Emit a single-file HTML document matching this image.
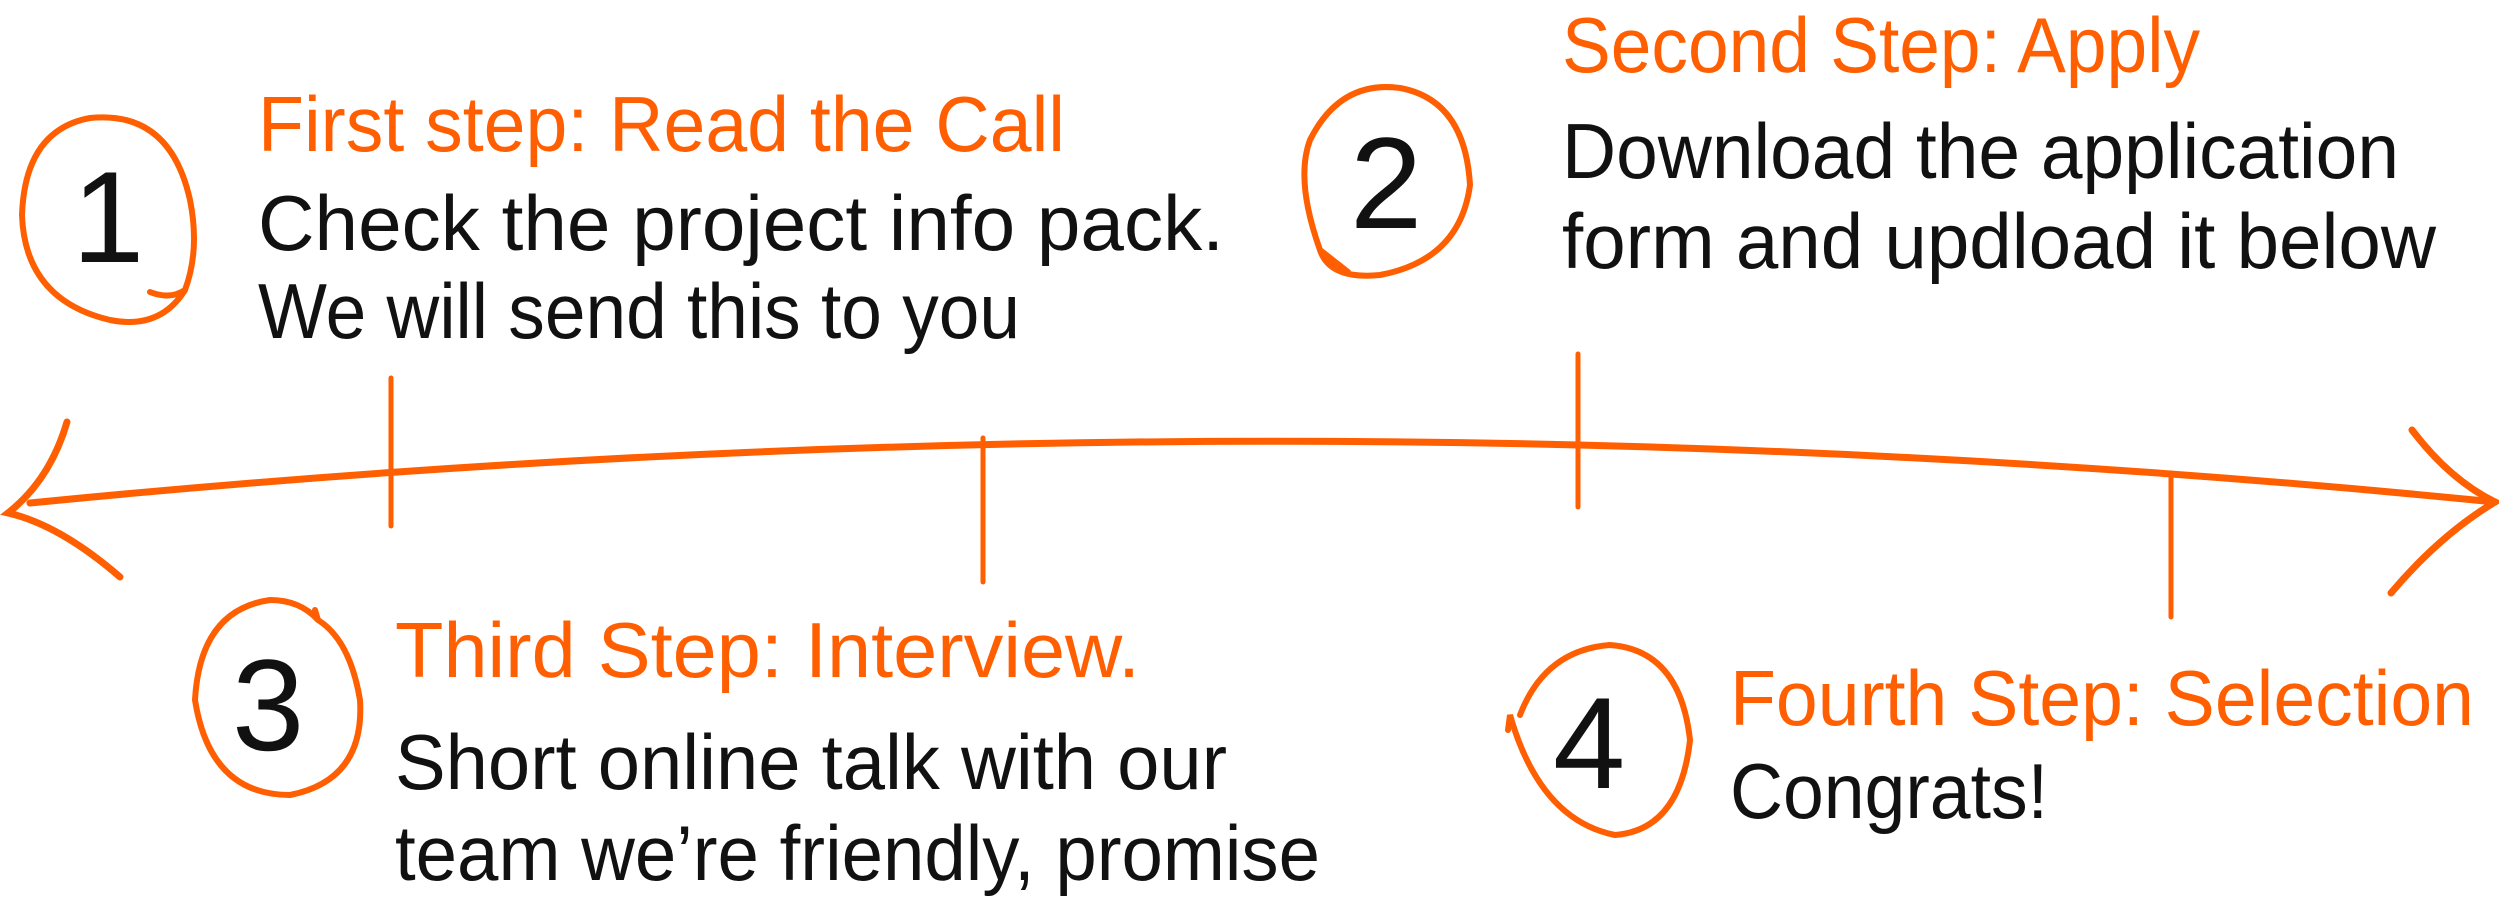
<!DOCTYPE html>
<html><head><meta charset="utf-8"><style>
html,body{margin:0;padding:0;background:#fff;}
svg{display:block;}
text{font-family:"Liberation Sans",sans-serif;font-size:78px;}
.o{fill:#ff5f00;}
.b{fill:#111;}
.n{font-size:130px;fill:#111;}
</style></head><body>
<svg width="2499" height="911" viewBox="0 0 2499 911" xmlns="http://www.w3.org/2000/svg">
<g fill="none" stroke="#ff5f00" stroke-linecap="round" stroke-width="7">
  <path d="M30 503 Q1275 380 2495 502"/>
  <path d="M67 422 Q50 480 8 513 Q60 525 120 577"/>
  <path d="M2412 430 Q2450 480 2495 502 Q2440 535 2391 593"/>
  <line x1="391" y1="378" x2="391" y2="526" stroke-width="5"/>
  <line x1="983" y1="438" x2="983" y2="582" stroke-width="5"/>
  <line x1="1578" y1="354" x2="1578" y2="507" stroke-width="5"/>
  <line x1="2171" y1="473" x2="2171" y2="617" stroke-width="5"/>
  <path d="M185 290 Q160 330 110 320 Q25 300 22 215 Q25 130 90 118 Q170 110 190 200 Q200 250 185 290 Q170 300 150 292" stroke-width="6"/>
  <path d="M1320 250 Q1295 180 1310 140 Q1340 80 1400 88 Q1465 100 1470 185 Q1460 260 1380 275 Q1330 280 1320 250 L1348 272" stroke-width="6"/>
  <path d="M318 620 Q350 640 360 700 Q365 780 290 795 Q210 795 195 700 Q200 610 270 600 Q300 600 318 620 L315 610" stroke-width="6"/>
  <path d="M1520 715 Q1545 650 1610 645 Q1680 650 1690 740 Q1680 830 1615 835 Q1540 820 1510 715 L1508 730" stroke-width="6"/>
</g>
<text class="n" x="72" y="262">1</text>
<text class="n" x="1350" y="228">2</text>
<text class="n" x="232" y="750">3</text>
<text class="n" x="1553" y="788">4</text>

<text class="o" x="258" y="151" textLength="807" lengthAdjust="spacingAndGlyphs">First step: Read the Call</text>
<text class="b" x="258" y="250" textLength="966" lengthAdjust="spacingAndGlyphs">Check the project info pack.</text>
<text class="b" x="258" y="338" textLength="762" lengthAdjust="spacingAndGlyphs">We will send this to you</text>

<text class="o" x="1562" y="72" textLength="638" lengthAdjust="spacingAndGlyphs">Second Step: Apply</text>
<text class="b" x="1562" y="178" textLength="837" lengthAdjust="spacingAndGlyphs">Download the application</text>
<text class="b" x="1562" y="268" textLength="874" lengthAdjust="spacingAndGlyphs">form and updload it below</text>

<text class="o" x="395" y="677" textLength="745" lengthAdjust="spacingAndGlyphs">Third Step: Interview.</text>
<text class="b" x="395" y="789" textLength="832" lengthAdjust="spacingAndGlyphs">Short online talk with our</text>
<text class="b" x="395" y="880" textLength="925" lengthAdjust="spacingAndGlyphs">team we’re friendly, promise</text>

<text class="o" x="1730" y="725" textLength="744" lengthAdjust="spacingAndGlyphs">Fourth Step: Selection</text>
<text class="b" x="1730" y="818" textLength="318" lengthAdjust="spacingAndGlyphs">Congrats!</text>
</svg>
</body></html>
